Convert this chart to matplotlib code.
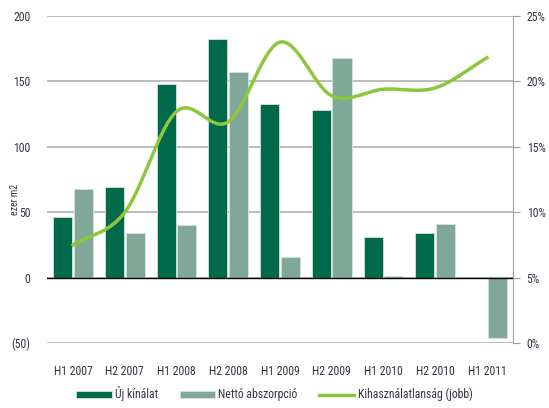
import numpy as np
import matplotlib.pyplot as plt
from matplotlib import font_manager

# data
periods = ['H1 2007', 'H2 2007', 'H1 2008', 'H2 2008', 'H1 2009',
           'H2 2009', 'H1 2010', 'H2 2010', 'H1 2011']
uj_kinalat = [46, 69, 148, 182, 133, 128, 31, 34, 0]
netto_abszorpcio = [68, 34, 40, 157, 16, 168, 1, 41, -46]
kihasznalatlansag = [7.5, 10.0, 17.7, 16.9, 23.0, 18.9, 19.4, 19.5, 21.8]

names = set(f.name for f in font_manager.fontManager.ttflist)
fam = 'DejaVu Sans'
for cand in ['Liberation Sans Narrow', 'Roboto Condensed', 'DejaVu Sans Condensed', 'Open Sans Condensed']:
    if cand in names:
        fam = cand
        break
plt.rcParams['font.family'] = fam
plt.rcParams['font.size'] = 8.5
if fam == 'DejaVu Sans':
    plt.rcParams['font.stretch'] = 'condensed'

dark = '#006a4a'
light = '#80a898'
lime = '#8dc63f'
txt = '#333344'


def smooth(x, y, n=20):
    # catmull-rom curve through the points, like a smoothed excel line
    x = np.asarray(x, float)
    y = np.asarray(y, float)
    px = np.concatenate(([2*x[0]-x[1]], x, [2*x[-1]-x[-2]]))
    py = np.concatenate(([2*y[0]-y[1]], y, [2*y[-1]-y[-2]]))
    xs, ys = [], []
    t = np.linspace(0, 1, n)
    for i in range(1, len(px)-2):
        for p, out in ((px, xs), (py, ys)):
            p0, p1, p2, p3 = p[i-1], p[i], p[i+1], p[i+2]
            out.extend(0.5*((2*p1) + (-p0+p2)*t + (2*p0-5*p1+4*p2-p3)*t**2
                            + (-p0+3*p1-3*p2+p3)*t**3))
    return np.array(xs), np.array(ys)


fig = plt.figure(figsize=(5.49, 4.08), dpi=100)
ax = fig.add_axes([0.086, 0.159, 0.848, 0.802])
x = np.arange(len(periods))
w = 0.37
ax.bar(x - 0.2, uj_kinalat, w, color=dark, edgecolor='#d8e0dc', linewidth=0.6,
       label='Új kínálat', zorder=3)
ax.bar(x + 0.2, netto_abszorpcio, w, color=light, edgecolor='#d8e0dc', linewidth=0.6,
       label='Nettó abszorpció', zorder=3)
ax.set_ylim(-50, 200)
ax.set_xlim(-0.5, len(periods) - 0.5)
ax.set_yticks([-50, 0, 50, 100, 150, 200])
ax.set_yticklabels(['(50)', '0', '50', '100', '150', '200'], color=txt)
ax.set_xticks(x)
ax.set_xticklabels(periods, color=txt)
ax.tick_params(axis='y', length=0, pad=12)
ax.tick_params(axis='x', length=0, pad=16)
ax.grid(axis='y', color='#b0b0b0', linewidth=1.2, zorder=0)
ax.axhline(0, color='black', linewidth=1.0, zorder=4)
for s in ['top', 'left', 'bottom', 'right']:
    ax.spines[s].set_visible(False)
ax.set_ylabel('ezer m2', color=txt, fontsize=7)
ax.yaxis.set_label_coords(-0.058, 0.44)

ax2 = ax.twinx()
sx, sy = smooth(x, kihasznalatlansag)
ax2.plot(sx, sy, color=lime, linewidth=2.5, label='Kihasználatlanság (jobb)', zorder=5)
ax2.set_ylim(0, 25)
ax2.set_yticks([0, 5, 10, 15, 20, 25])
ax2.set_yticklabels(['0%', '5%', '10%', '15%', '20%', '25%'], color=txt)
for s in ['top', 'left', 'bottom']:
    ax2.spines[s].set_visible(False)
ax2.spines['right'].set_color('#a0a0a0')
ax2.tick_params(axis='y', direction='out', length=5, color='#a0a0a0', pad=5)

h1, l1 = ax.get_legend_handles_labels()
h2, l2 = ax2.get_legend_handles_labels()
fig.legend(h1 + h2, l1 + l2, loc='lower center', bbox_to_anchor=(0.5, -0.01), ncol=3,
           frameon=False, handlelength=3.0, handleheight=0.5, columnspacing=1.8,
           handletextpad=0.3, labelcolor=txt)

fig.savefig('out.png', dpi=100)
